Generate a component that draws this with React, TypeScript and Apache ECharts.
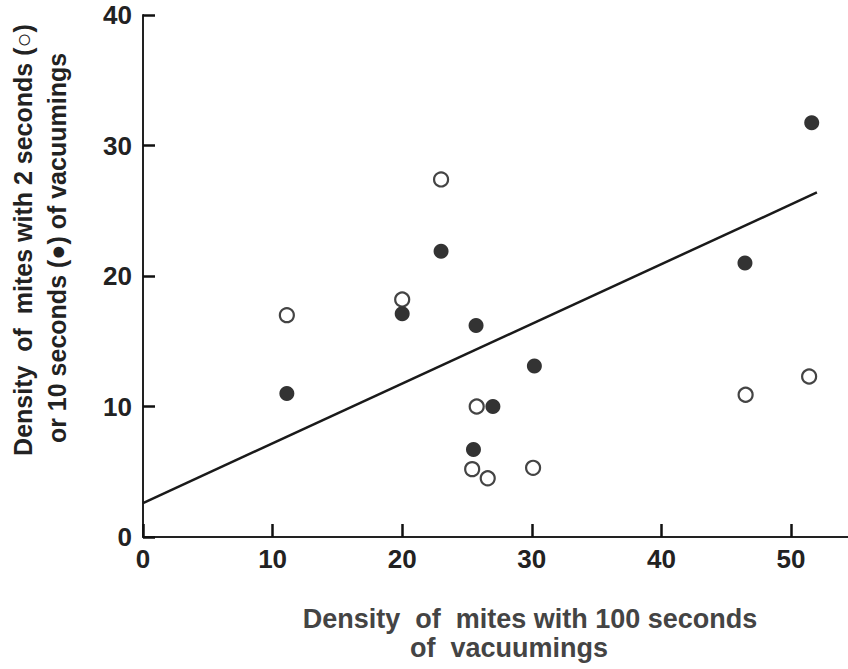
import React, { useEffect, useRef } from "react";
import * as echarts from "echarts";

// open circles: 2 seconds of vacuuming (x = density with 100 s)
const openX = [11.1, 20.0, 23.0, 25.75, 25.4, 26.6, 30.1, 46.5, 51.4];
const openY = [17.0, 18.2, 27.4, 10.0, 5.2, 4.5, 5.3, 10.9, 12.3];
// filled circles: 10 seconds of vacuuming
const filledX = [11.1, 20.0, 23.0, 25.7, 25.5, 27.0, 30.2, 46.45, 51.6];
const filledY = [11.0, 17.1, 21.9, 16.2, 6.7, 10.0, 13.1, 21.0, 31.75];
// regression line
const fitX = [0, 52];
const fitY = [2.6, 26.4];

const yTitle1 = "Density  of  mites with 2 seconds (○)";
const yTitle2 = "or 10 seconds (●) of vacuumings";
const xTitle1 = "Density  of  mites with 100 seconds";
const xTitle2 = "of  vacuumings";

export default function App() {
  const ref = useRef<HTMLDivElement>(null);
  useEffect(() => {
    if (!ref.current) return;
    const chart = echarts.init(ref.current, undefined, { renderer: "svg" });
    const font = "'Liberation Sans', Arial, Helvetica, sans-serif";
    chart.setOption({
      animation: false,
      grid: { left: 143, top: 15, width: 705, height: 522 },
      xAxis: {
        type: "value",
        min: 0,
        max: 54.4,
        interval: 10,
        splitLine: { show: false },
        axisLine: { show: true, lineStyle: { color: "#222", width: 2 } },
        axisTick: { show: true, inside: true, length: 13, lineStyle: { color: "#111", width: 2.5 } },
        axisLabel: {
          showMaxLabel: false,
          color: "#222",
          fontFamily: font,
          fontWeight: "bold",
          fontSize: 26,
          margin: 9,
        },
      },
      yAxis: {
        type: "value",
        min: 0,
        max: 40,
        interval: 10,
        splitLine: { show: false },
        axisLine: { show: true, lineStyle: { color: "#222", width: 2 } },
        axisTick: { show: true, inside: true, length: 12, lineStyle: { color: "#111", width: 2.5 } },
        axisLabel: {
          color: "#222",
          fontFamily: font,
          fontWeight: "bold",
          fontSize: 26,
          margin: 11,
        },
      },
      series: [
        {
          type: "line",
          data: fitX.map((x, i) => [x, fitY[i]]),
          showSymbol: false,
          symbol: "none",
          lineStyle: { color: "#1a1a1a", width: 2.5 },
          z: 1,
        },
        {
          type: "scatter",
          data: openX.map((x, i) => [x, openY[i]]),
          symbol: "circle",
          symbolSize: 14,
          itemStyle: { color: "#ffffff", borderColor: "#444", borderWidth: 2.2, opacity: 1 },
          z: 3,
        },
        {
          type: "scatter",
          data: filledX.map((x, i) => [x, filledY[i]]),
          symbol: "circle",
          symbolSize: 15,
          itemStyle: { color: "#333", opacity: 1 },
          z: 4,
        },
      ],
      graphic: [
        {
          type: "text",
          x: 23,
          y: 240,
          rotation: Math.PI / 2,
          style: {
            text: yTitle1,
            fontFamily: font,
            fontWeight: "bold",
            fontSize: 25,
            fill: "#222",
            align: "center",
            verticalAlign: "middle",
          },
        },
        {
          type: "text",
          x: 57,
          y: 248,
          rotation: Math.PI / 2,
          style: {
            text: yTitle2,
            fontFamily: font,
            fontWeight: "bold",
            fontSize: 25,
            fill: "#222",
            align: "center",
            verticalAlign: "middle",
          },
        },
        {
          type: "text",
          x: 530,
          y: 619,
          style: {
            text: xTitle1,
            fontFamily: font,
            fontWeight: "bold",
            fontSize: 27,
            fill: "#444",
            align: "center",
            verticalAlign: "middle",
          },
        },
        {
          type: "text",
          x: 509,
          y: 648,
          style: {
            text: xTitle2,
            fontFamily: font,
            fontWeight: "bold",
            fontSize: 27,
            fill: "#444",
            align: "center",
            verticalAlign: "middle",
          },
        },
      ],
    });
    return () => chart.dispose();
  }, []);
  return (
    <div
      ref={ref}
      style={{ position: "absolute", left: 0, top: 0, width: 848, height: 669 }}
    />
  );
}
